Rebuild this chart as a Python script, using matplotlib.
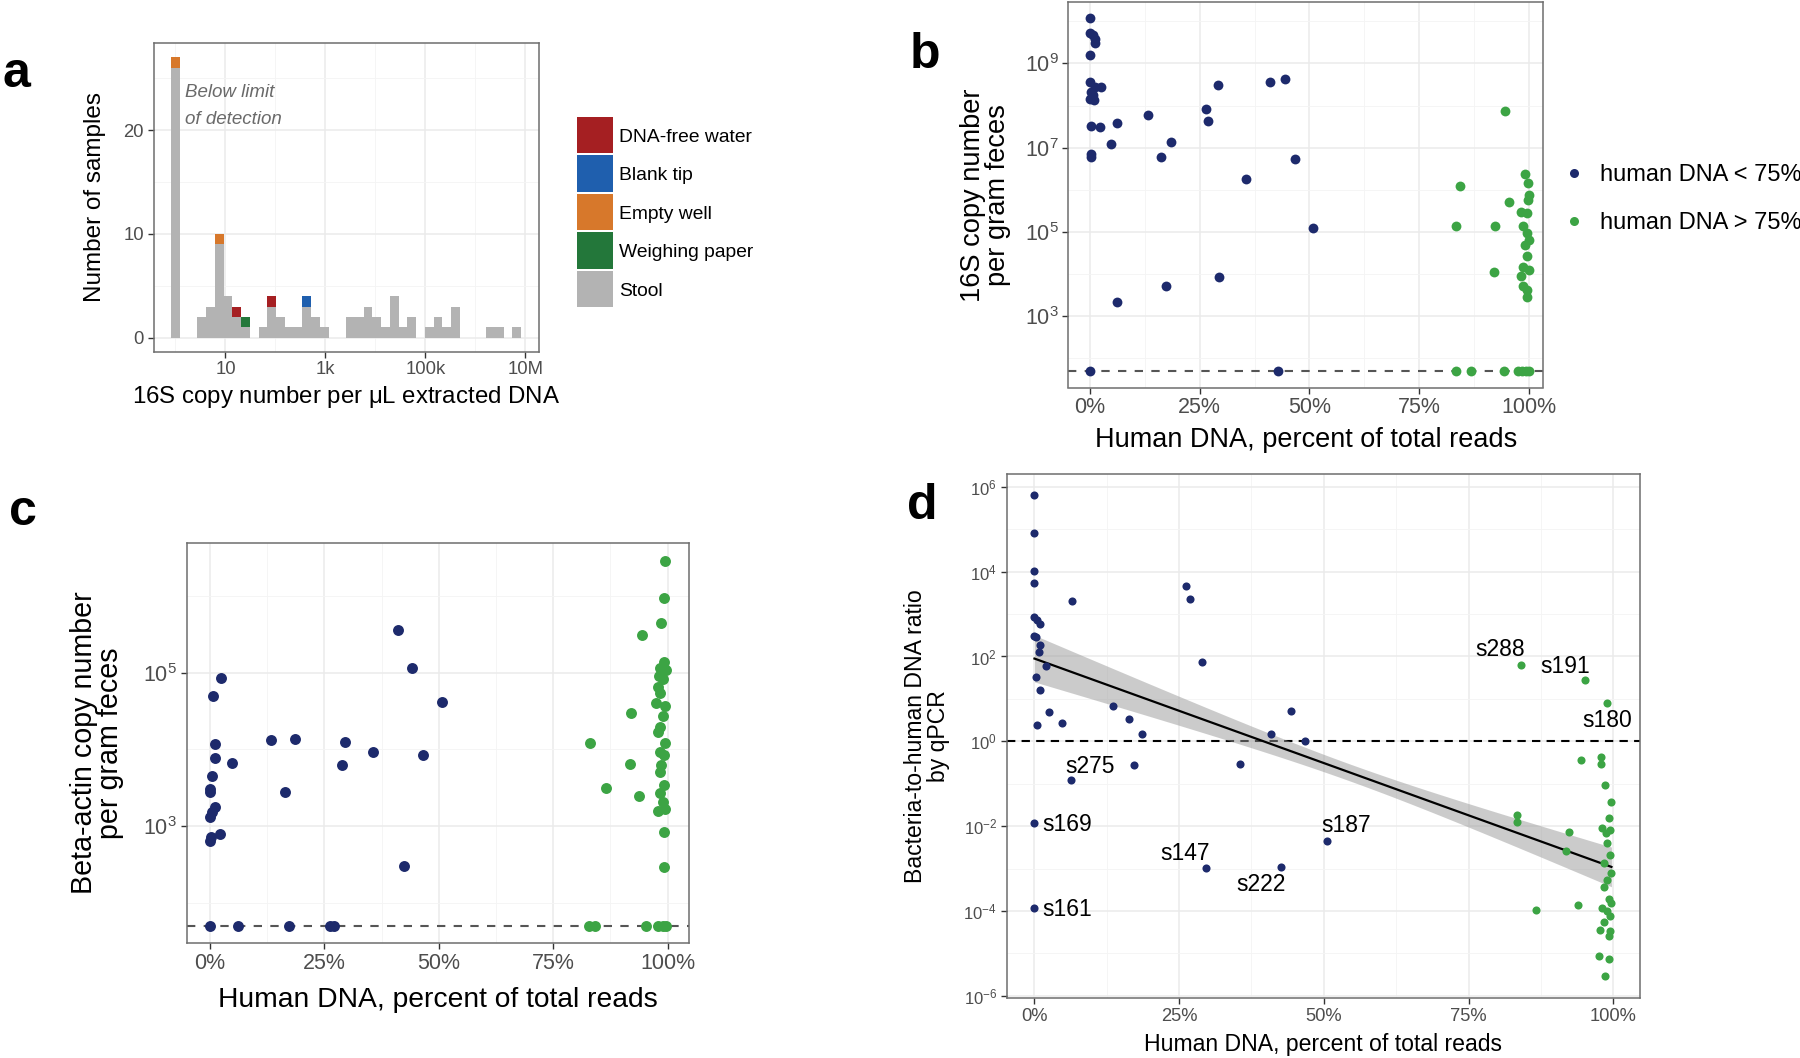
import numpy as np
import matplotlib
matplotlib.use('Agg')
import matplotlib.pyplot as plt
from matplotlib.ticker import FixedLocator, FixedFormatter, NullFormatter
from matplotlib.patches import Patch, Rectangle
from matplotlib.lines import Line2D
from matplotlib.legend_handler import HandlerPatch

plt.rcParams['font.family'] = ['Liberation Sans', 'DejaVu Sans']
plt.rcParams['mathtext.fontset'] = 'custom'
plt.rcParams['mathtext.rm'] = 'Liberation Sans'
plt.rcParams['mathtext.it'] = 'Liberation Sans:italic'
plt.rcParams['mathtext.bf'] = 'Liberation Sans:bold'

# ---------------- data ----------------
# Panel a: histogram of log10(16S copies / uL), 40 bins
hist_bin_width_log10 = 0.1751
hist_stool_counts = [26, 0, 0, 2, 3, 9, 4, 2, 1, 0, 1, 3, 2, 1, 1, 3, 2, 1, 0, 0,
                     2, 2, 3, 2, 1, 4, 1, 2, 0, 1, 2, 1, 3, 0, 0, 0, 1, 1, 0, 1]
water_bins = [7, 11]
blank_tip_bins = [15]
empty_well_bins = [0, 5]
weighing_paper_bins = [8]
control_names = ['DNA-free water', 'Blank tip', 'Empty well', 'Weighing paper', 'Stool']
control_colors = ['#a51f22', '#1f5fae', '#d7782b', '#23773a', '#b3b3b3']

lod_value = 50  # below limit of detection placeholder

# Panel b: 16S copies per gram feces (log10) vs human DNA fraction
b_low_x = [0.000, 0.000, 0.008, 0.011, 0.011, 0.000, 0.000, 0.025, 0.012, 0.003, 0.000, 0.010,
           0.006, 0.003, 0.022, 0.062, 0.133, 0.049, 0.003, 0.003, 0.161, 0.185, 0.264, 0.268,
           0.291, 0.410, 0.444, 0.468, 0.356, 0.508, 0.295, 0.173, 0.062]
b_low_log = [10.07, 9.73, 9.67, 9.57, 9.49, 9.20, 8.56, 8.44, 8.44, 8.32, 8.16, 8.14,
             8.26, 7.51, 7.48, 7.59, 7.77, 7.09, 6.86, 6.78, 6.78, 7.13, 7.92, 7.64,
             8.49, 8.56, 8.62, 6.73, 6.26, 5.09, 3.92, 3.70, 3.33]
b_low_lod_x = [0.000, 0.428]
b_high_x = [0.945, 0.842, 0.834, 0.923, 0.920, 0.954, 0.990, 0.998, 1.000, 0.997, 0.981, 0.995,
            0.986, 0.995, 1.000, 0.990, 0.995, 0.986, 1.000, 0.981, 0.986, 0.995, 0.995]
b_high_log = [7.86, 6.08, 5.13, 5.14, 4.04, 5.71, 6.38, 6.16, 5.88, 5.76, 5.48, 5.44,
              5.13, 4.97, 4.81, 4.69, 4.43, 4.17, 4.10, 3.94, 3.70, 3.62, 3.46]
b_high_lod_x = [0.834, 0.868, 0.943, 0.975, 0.985, 0.993, 1.000]

# Panel c: beta-actin copies per gram feces (log10)
c_low_x = [0.410, 0.442, 0.506, 0.025, 0.007, 0.010, 0.010, 0.049, 0.004, 0.000, 0.000, 0.010,
           0.004, 0.000, 0.022, 0.002, 0.000, 0.134, 0.185, 0.163, 0.296, 0.289, 0.356, 0.466, 0.424]
c_low_log = [5.56, 5.06, 4.62, 4.93, 4.70, 4.07, 3.89, 3.82, 3.65, 3.48, 3.44, 3.25,
             3.18, 3.12, 2.89, 2.85, 2.80, 4.12, 4.14, 3.44, 4.10, 3.80, 3.96, 3.92, 2.48]
c_low_lod_x = [0.000, 0.062, 0.172, 0.262, 0.270]
c_high_x = [0.994, 0.992, 0.985, 0.943, 0.992, 0.984, 0.996, 0.982, 0.989, 0.979, 0.984, 0.974,
            0.994, 0.989, 0.984, 0.979, 0.994, 0.984, 0.992, 0.986, 0.984, 0.992, 0.984, 0.989,
            0.979, 0.994, 0.991, 0.991, 0.921, 0.831, 0.917, 0.865, 0.938]
c_high_log = [6.46, 5.97, 5.65, 5.49, 5.14, 5.06, 5.03, 4.96, 4.92, 4.81, 4.73, 4.61,
              4.56, 4.43, 4.29, 4.22, 4.08, 3.97, 3.92, 3.80, 3.71, 3.53, 3.43, 3.31,
              3.20, 3.22, 2.92, 2.46, 4.48, 4.08, 3.81, 3.49, 3.39]
c_high_lod_x = [0.829, 0.841, 0.952, 0.979, 0.990, 0.997]

# Panel d: bacteria-to-human DNA ratio (log10)
d_low_x = [0.000, 0.000, 0.000, 0.000, 0.065, 0.262, 0.268, 0.000, 0.004, 0.009, 0.000, 0.003,
           0.009, 0.008, 0.020, 0.289, 0.003, 0.009, 0.135, 0.025, 0.444, 0.163, 0.004, 0.048,
           0.185, 0.409, 0.467, 0.355, 0.172, 0.063, 0.000, 0.506, 0.296, 0.426, 0.000]
d_low_log = [5.80, 4.91, 4.02, 3.73, 3.31, 3.65, 3.35, 2.92, 2.85, 2.76, 2.49, 2.45,
             2.26, 2.10, 1.77, 1.88, 1.51, 1.22, 0.83, 0.69, 0.72, 0.52, 0.38, 0.44,
             0.17, 0.18, 0.00, -0.53, -0.56, -0.92, -1.93, -2.36, -2.99, -2.96, -3.94]
d_high_x = [0.840, 0.952, 0.990, 0.945, 0.979, 0.979, 0.986, 0.997, 0.833, 0.833, 0.923, 0.919,
            0.993, 0.980, 0.995, 0.987, 0.990, 0.994, 0.984, 0.997, 0.989, 0.984, 0.993, 0.997,
            0.980, 0.990, 0.995, 0.984, 0.978, 0.995, 0.993, 0.867, 0.939, 0.976, 0.992, 0.986]
d_high_log = [1.81, 1.45, 0.91, -0.45, -0.36, -0.53, -1.04, -1.43, -1.74, -1.90, -2.14, -2.58,
              -1.80, -2.04, -2.09, -2.17, -2.40, -2.68, -2.86, -3.11, -3.27, -3.44, -3.71, -3.81,
              -3.94, -3.99, -4.12, -4.26, -4.44, -4.46, -4.58, -3.97, -3.86, -5.07, -5.12, -5.54]
d_label_names = ['s275', 's169', 's161', 's147', 's222', 's187', 's288', 's191', 's180']
d_label_x = [0.096, 0.056, 0.056, 0.261, 0.392, 0.539, 0.805, 0.917, 0.989]
d_label_log = [-0.59, -1.97, -3.96, -2.64, -3.37, -1.99, 2.17, 1.77, 0.48]
fit_intercept_log = 1.95
fit_slope_log = -4.925
ci_halfwidth_min = 0.20
ci_center_x = 0.546
ci_curvature = 0.88

navy = '#1d2a6c'
green = '#3ca444'

# ---------------- figure ----------------
W, H = 1800, 1058
fig = plt.figure(figsize=(W / 100, H / 100), dpi=100)


def add_axes_px(l, t, r, b):
    return fig.add_axes([l / W, 1 - b / H, (r - l) / W, (b - t) / H])


def style(ax, fs, labelcolor='#4d4d4d'):
    for s in ax.spines.values():
        s.set_color('#6e6e6e')
        s.set_linewidth(1.1)
    ax.tick_params(which='major', length=4, width=1.0, color='#333333',
                   labelsize=fs, labelcolor=labelcolor, pad=3)
    ax.tick_params(which='minor', length=0)
    ax.grid(True, which='major', color='#ebebeb', lw=1.1)
    ax.grid(True, which='minor', color='#f4f4f4', lw=0.6)
    ax.set_axisbelow(True)


def pct_axis(ax):
    ax.xaxis.set_major_locator(FixedLocator([0, 0.25, 0.5, 0.75, 1.0]))
    ax.xaxis.set_major_formatter(FixedFormatter(['0%', '25%', '50%', '75%', '100%']))
    ax.xaxis.set_minor_locator(FixedLocator([0.125, 0.375, 0.625, 0.875]))
    ax.xaxis.set_minor_formatter(NullFormatter())


def log_axis(ax, majors, minors):
    ax.set_yscale('log')
    ax.yaxis.set_major_locator(FixedLocator([10.0 ** e for e in majors]))
    ax.yaxis.set_major_formatter(FixedFormatter([r'$\mathregular{10^{%d}}$' % e for e in majors]))
    ax.yaxis.set_minor_locator(FixedLocator([10.0 ** e for e in minors]))
    ax.yaxis.set_minor_formatter(NullFormatter())


def set_label(ax, axis, text, x, y, fs, **kw):
    if axis == 'x':
        ax.set_xlabel(text, fontsize=fs, **kw)
        ax.xaxis.set_label_coords(x / W, 1 - y / H, transform=fig.transFigure)
        ax.xaxis.label.set_va('center')
    else:
        ax.set_ylabel(text, fontsize=fs, **kw)
        ax.yaxis.set_label_coords(x / W, 1 - y / H, transform=fig.transFigure)
        ax.yaxis.label.set_va('center')


class KeyHandler(HandlerPatch):
    """Square legend key of a fixed height (points), centred on the row."""
    def __init__(self, key_height_pt, **kw):
        super().__init__(**kw)
        self.key_height_pt = key_height_pt

    def create_artists(self, legend, orig_handle, xdescent, ydescent, width, height, fontsize, trans):
        kh = self.key_height_pt
        p = Rectangle((-xdescent, -ydescent + height / 2 - kh / 2), width, kh,
                      facecolor=orig_handle.get_facecolor(), edgecolor='none', transform=trans)
        return [p]


# ---------- panel a ----------
axa = add_axes_px(153.6, 43.3, 538.6, 351.7)
style(axa, 13.3)
centers = np.arange(len(hist_stool_counts)) * hist_bin_width_log10
lefts = 10 ** (centers - hist_bin_width_log10 / 2)
widths = 10 ** (centers + hist_bin_width_log10 / 2) - lefts
bottoms = np.array(hist_stool_counts, dtype=float)
axa.bar(lefts, hist_stool_counts, width=widths, align='edge', color=control_colors[4], lw=0)
for bins, col in zip([water_bins, blank_tip_bins, empty_well_bins, weighing_paper_bins], control_colors[:4]):
    for k in bins:
        axa.bar(lefts[k], 1, width=widths[k], bottom=bottoms[k], align='edge', color=col, lw=0)
        bottoms[k] += 1
axa.set_xscale('log')
axa.set_xlim(10 ** -0.438, 10 ** 7.268)
axa.set_ylim(-1.35, 28.35)
axa.xaxis.set_major_locator(FixedLocator([1e1, 1e3, 1e5, 1e7]))
axa.xaxis.set_major_formatter(FixedFormatter(['10', '1k', '100k', '10M']))
axa.xaxis.set_minor_locator(FixedLocator([1e0, 1e2, 1e4, 1e6]))
axa.xaxis.set_minor_formatter(NullFormatter())
axa.yaxis.set_major_locator(FixedLocator([0, 10, 20]))
axa.yaxis.set_minor_locator(FixedLocator([5, 15, 25]))
axa.text(10 ** 0.186, 23.66, 'Below limit', fontsize=13.5, style='italic', color='#6a6a6a', va='center')
axa.text(10 ** 0.186, 21.05, 'of detection', fontsize=13.5, style='italic', color='#6a6a6a', va='center')
set_label(axa, 'x', r'16S copy number per $\mathregular{\mu}$L extracted DNA', 346, 396.7, 17.3)
set_label(axa, 'y', 'Number of samples', 94.6, 197.5, 17.5)
handles_a = [Patch(facecolor=c, edgecolor='none') for c in control_colors]
key_handler = KeyHandler(36.5 * 0.72)
fig.legend(handles_a, control_names, loc='upper left', bbox_to_anchor=(576.7 / W, 1 - 128 / H),
           bbox_transform=fig.transFigure, frameon=False, fontsize=13.9, handlelength=1.9,
           labelspacing=1.09, handletextpad=0.3, borderpad=0, borderaxespad=0,
           handler_map={Patch: key_handler})

# ---------- panel b ----------
axb = add_axes_px(1068.3, 2, 1543.3, 387.5)
style(axb, 15.5)
pct_axis(axb)
log_axis(axb, [3, 5, 7, 9], [2, 4, 6, 8, 10])
axb.axhline(lod_value, color='#555555', lw=1.5, ls=(0, (4, 4)), zorder=2)
axb.scatter(b_low_x, 10.0 ** np.array(b_low_log), s=50, color=navy, lw=0, zorder=3)
axb.scatter(b_low_lod_x, [lod_value] * len(b_low_lod_x), s=50, color=navy, lw=0, zorder=3)
axb.scatter(b_high_x, 10.0 ** np.array(b_high_log), s=50, color=green, lw=0, zorder=3)
axb.scatter(b_high_lod_x, [lod_value] * len(b_high_lod_x), s=50, color=green, lw=0, zorder=3)
axb.set_xlim(-0.0494, 1.0326)
axb.set_ylim(10 ** 1.30, 10 ** 10.46)
set_label(axb, 'x', 'Human DNA, percent of total reads', 1305.8, 440, 19.5)
set_label(axb, 'y', '16S copy number\nper gram feces', 985, 195, 19.6, linespacing=0.95)
handles_b = [Line2D([], [], ls='none', marker='o', markersize=6.5, color=navy, markeredgewidth=0),
             Line2D([], [], ls='none', marker='o', markersize=6.5, color=green, markeredgewidth=0)]
fig.legend(handles_b, ['human DNA < 75%', 'human DNA > 75%'], loc='upper left',
           bbox_to_anchor=(1562 / W, 1 - 164 / H), bbox_transform=fig.transFigure, frameon=False,
           fontsize=17, handlelength=1.0, handletextpad=0.6, labelspacing=1.1, borderpad=0,
           borderaxespad=0)

# ---------- panel c ----------
axc = add_axes_px(186.7, 542.7, 688.7, 943.3)
style(axc, 15.5)
pct_axis(axc)
log_axis(axc, [3, 5], [2, 4, 6])
axc.axhline(lod_value, color='#555555', lw=1.5, ls=(0, (4, 4)), zorder=2)
axc.scatter(c_low_x, 10.0 ** np.array(c_low_log), s=62, color=navy, lw=0, zorder=3)
axc.scatter(c_low_lod_x, [lod_value] * len(c_low_lod_x), s=62, color=navy, lw=0, zorder=3)
axc.scatter(c_high_x, 10.0 ** np.array(c_high_log), s=62, color=green, lw=0, zorder=3)
axc.scatter(c_high_lod_x, [lod_value] * len(c_high_lod_x), s=62, color=green, lw=0, zorder=3)
axc.set_xlim(-0.051, 1.046)
axc.set_ylim(10 ** 1.47, 10 ** 6.695)
set_label(axc, 'x', 'Human DNA, percent of total reads', 437.7, 1000, 20.3)
set_label(axc, 'y', 'Beta-actin copy number\nper gram feces', 97, 743, 20.6, linespacing=0.95)

# ---------- panel d ----------
axd = add_axes_px(1006.7, 473.6, 1639.8, 998)
style(axd, 13.2)
pct_axis(axd)
log_axis(axd, [-6, -4, -2, 0, 2, 4, 6], [-5, -3, -1, 1, 3, 5])
axd.tick_params(axis='y', labelsize=12)
axd.axhline(1.0, color='black', lw=1.5, ls=(0, (4, 3)), zorder=2)
xfit = np.linspace(0, max(d_high_x + d_low_x), 200)
yfit = fit_intercept_log + fit_slope_log * xfit
hw = np.sqrt(ci_halfwidth_min ** 2 + ci_curvature * (xfit - ci_center_x) ** 2)
axd.fill_between(xfit, 10 ** (yfit - hw), 10 ** (yfit + hw), color='#999999', alpha=0.5, lw=0, zorder=2.5)
axd.plot(xfit, 10 ** yfit, color='black', lw=1.6, zorder=2.6)
axd.scatter(d_low_x, 10.0 ** np.array(d_low_log), s=34, color=navy, lw=0, zorder=3)
axd.scatter(d_high_x, 10.0 ** np.array(d_high_log), s=34, color=green, lw=0, zorder=3)
for name, lx, ly in zip(d_label_names, d_label_x, d_label_log):
    axd.text(lx, 10 ** ly, name, fontsize=16.5, ha='center', va='center', zorder=4)
axd.set_xlim(-0.048, 1.046)
axd.set_ylim(10 ** -6.05, 10 ** 6.31)
set_label(axd, 'x', 'Human DNA, percent of total reads', 1323, 1045, 16.6)
set_label(axd, 'y', 'Bacteria-to-human DNA ratio\nby qPCR', 927, 736, 16.6, linespacing=0.95)

# panel letters
for letter, x, y in [('a', 3, 87), ('b', 910, 68), ('c', 9, 525), ('d', 907, 519)]:
    fig.text(x / W, 1 - y / H, letter, fontsize=36, fontweight='bold', ha='left', va='baseline')

fig.savefig('out.png', dpi=100)
